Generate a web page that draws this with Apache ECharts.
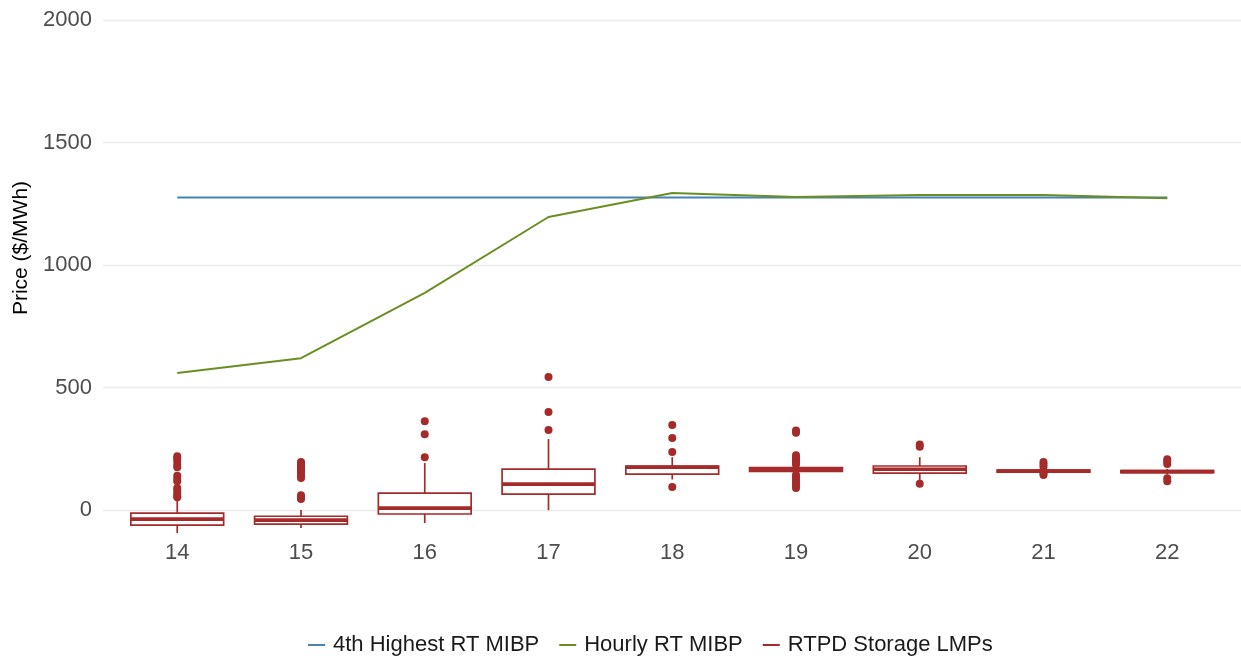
<!DOCTYPE html>
<html>
<head>
<meta charset="utf-8">
<script src="https://cdn.jsdelivr.net/npm/echarts@6/dist/echarts.min.js"></script>
<style>
  html, body { margin: 0; padding: 0; background: #ffffff; }
  #chart { width: 1241px; height: 658px; }
</style>
</head>
<body>
<div id="chart"></div>
<script>
// Hour of day (x positions)
const hours = [14, 15, 16, 17, 18, 19, 20, 21, 22];

// 4th highest real-time MIBP ($/MWh)
const highestMibp = [1276, 1276, 1276, 1276, 1276, 1276, 1276, 1276, 1276];

// Hourly real-time MIBP ($/MWh)
const hourlyMibp = [559, 620, 886, 1196, 1294, 1278, 1286, 1286, 1273];

// RTPD storage LMP distribution per hour: whisker ends, quartiles and median
const lmpLow    = [-94, -73, -53,   0, 125, 150, 122, 148, 145];
const lmpQ1     = [-61, -57, -16,  65, 147, 158, 151, 155, 153];
const lmpMedian = [-37, -41,   8, 106, 175, 166, 167, 159, 157];
const lmpQ3     = [-12, -25,  69, 167, 180, 173, 180, 163, 161];
const lmpHigh   = [ 40,   0, 192, 290, 216, 182, 216, 170, 168];

// Outlying LMPs per hour
const lmpOutliers = [
  [220, 212, 200, 185, 175, 140, 128, 118, 90, 80, 68, 58, 52],
  [196, 188, 180, 170, 160, 150, 140, 131, 61, 53, 45],
  [216, 310, 363],
  [327, 400, 543],
  [237, 294, 347, 94],
  [325, 316, 224, 214, 204, 194, 186, 143, 133, 122, 112, 100, 90],
  [268, 258, 108],
  [196, 186, 176, 150, 143],
  [208, 198, 188, 130, 118]
];

// Y ticks
const priceTicks = [0, 500, 1000, 1500, 2000];

const BLUE = '#4682B4';
const GREEN = '#6B8E23';
const BROWN = '#A52A2A';
const FONT = "'Liberation Sans', Arial, sans-serif";

const boxData = hours.map((h, i) => [h, lmpLow[i], lmpQ1[i], lmpMedian[i], lmpQ3[i], lmpHigh[i]]);
const outlierData = [];
hours.forEach((h, i) => lmpOutliers[i].forEach(v => outlierData.push([h, v])));

// Box with whiskers (no end caps) and a heavier median bar
function renderBox(params, api) {
  const x = api.value(0);
  const low = api.coord([x, api.value(1)]);
  const q1 = api.coord([x, api.value(2)]);
  const med = api.coord([x, api.value(3)]);
  const q3 = api.coord([x, api.value(4)]);
  const high = api.coord([x, api.value(5)]);
  const half = api.size([0.75, 0])[0] / 2;
  const stroke = { stroke: BROWN, lineWidth: 1.7 };
  return {
    type: 'group',
    children: [
      { type: 'line', shape: { x1: low[0], y1: low[1], x2: q1[0], y2: q1[1] }, style: stroke },
      { type: 'line', shape: { x1: q3[0], y1: q3[1], x2: high[0], y2: high[1] }, style: stroke },
      {
        type: 'rect',
        shape: { x: q3[0] - half, y: q3[1], width: half * 2, height: q1[1] - q3[1] },
        style: { fill: '#ffffff', stroke: BROWN, lineWidth: 1.7 }
      },
      {
        type: 'line',
        shape: { x1: med[0] - half, y1: med[1], x2: med[0] + half, y2: med[1] },
        style: { stroke: BROWN, lineWidth: 3.6 }
      }
    ]
  };
}

const chart = echarts.init(document.getElementById('chart'), null, { renderer: 'canvas' });

chart.setOption({
  animation: false,
  backgroundColor: '#ffffff',
  textStyle: { fontFamily: FONT },
  grid: {
    left: 103, top: -44, width: 1138.5, height: 584,
    containLabel: false,
    outerBoundsMode: 'none'
  },
  xAxis: {
    type: 'value',
    min: 13.4,
    max: 22.6,
    axisLine: { show: false },
    axisTick: { show: false, customValues: hours },
    splitLine: { show: false },
    axisLabel: {
      customValues: hours,
      color: '#4d4d4d',
      fontSize: 22,
      fontFamily: FONT,
      margin: 2,
      formatter: v => String(v)
    }
  },
  yAxis: {
    type: 'value',
    min: -122,
    max: 2261,
    name: 'Price ($/MWh)',
    nameLocation: 'middle',
    nameGap: 67,
    nameTextStyle: { color: '#000000', fontSize: 21, fontFamily: FONT },
    axisLine: { show: false },
    axisTick: { show: false, customValues: priceTicks },
    splitLine: { show: true, lineStyle: { color: '#ebebeb', width: 1.3 } },
    axisLabel: {
      customValues: priceTicks,
      color: '#4d4d4d',
      fontSize: 22,
      fontFamily: FONT,
      margin: 11,
      formatter: v => String(v)
    }
  },
  legend: {
    left: 303,
    top: 629,
    itemWidth: 17,
    itemHeight: 2,
    itemGap: 20,
    icon: 'rect',
    textStyle: { color: '#1a1a1a', fontSize: 22, fontFamily: FONT, padding: [0, 0, 0, 3] },
    data: ['4th Highest RT MIBP', 'Hourly RT MIBP', 'RTPD Storage LMPs']
  },
  series: [
    {
      name: '4th Highest RT MIBP',
      type: 'line',
      data: hours.map((h, i) => [h, highestMibp[i]]),
      showSymbol: false,
      color: BLUE,
      lineStyle: { color: BLUE, width: 2 },
      z: 3
    },
    {
      name: 'Hourly RT MIBP',
      type: 'line',
      data: hours.map((h, i) => [h, hourlyMibp[i]]),
      showSymbol: false,
      color: GREEN,
      lineStyle: { color: GREEN, width: 2 },
      z: 3
    },
    {
      name: 'RTPD Storage LMPs',
      type: 'custom',
      renderItem: renderBox,
      data: boxData,
      color: BROWN,
      itemStyle: { color: BROWN },
      encode: { x: 0, y: [1, 2, 3, 4, 5] },
      z: 2
    },
    {
      name: 'RTPD Storage LMPs',
      type: 'scatter',
      data: outlierData,
      symbol: 'circle',
      symbolSize: 8,
      itemStyle: { color: BROWN, opacity: 1 },
      z: 4
    }
  ]
});
</script>
</body>
</html>
